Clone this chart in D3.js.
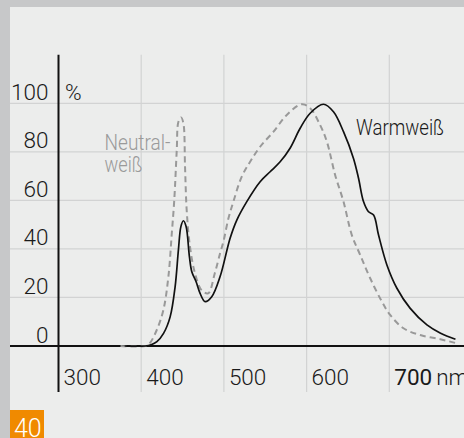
<!DOCTYPE html>
<html>
<head>
<meta charset="utf-8">
<script src="https://cdn.jsdelivr.net/npm/d3@7/dist/d3.min.js"></script>
<style>
  html, body { margin: 0; padding: 0; background: #c7c8c9; }
  svg { display: block; }
  text { font-family: Roboto, "Liberation Sans", Arial, sans-serif; font-weight: 300; }
</style>
</head>
<body>
<svg id="chart" width="464" height="438"></svg>
<script>
// ---- data ----
const xTicks = [300, 400, 500, 600, 700];
const yTicks = [0, 20, 40, 60, 80, 100];
const xTickLabels = ["300", "400", "500", "600", "700"];
const yTickLabels = ["0", "20", "40", "60", "80", "100"];
const xUnit = "nm";
const yUnit = "%";
const seriesNames = ["Warmweiß", "Neutral-weiß"];
const pageNumber = "40";

// Warmweiß (solid black): wavelength (nm) and relative value (%)
const warmNm = [380, 405, 412, 419, 427, 435, 441, 445, 448, 451, 454.3, 458.3, 461.2, 466.4, 471.2, 477.2, 485.3, 495.4, 507.5, 515.6, 527.7, 543.8, 555.9, 568, 580, 592.2, 604.3, 620.4, 632.5, 644.6, 656.7, 662.8, 668.8, 674.9, 681, 687, 697.1, 709.2, 725.3, 745.5, 762, 780];
const warmVal = [0, 0, 0.5, 1.8, 5.2, 12, 24.4, 39.6, 49.2, 51.6, 49.2, 36.8, 30.6, 26.5, 21.7, 18.3, 20.3, 28.6, 44.4, 51.9, 59.5, 67.7, 71.8, 75.9, 81.5, 89.7, 95.9, 99.6, 96.5, 88.3, 77.3, 69.1, 59.5, 55.3, 54, 45.7, 33.4, 23.8, 15.5, 8.7, 5.3, 2.8];

// Neutralweiß (dashed grey)
const neutralNm = [375, 405, 410, 418.8, 426.8, 432.9, 437, 440, 443, 445, 448.2, 451, 453, 455, 459, 465, 473, 481, 489, 495.4, 499.4, 505.5, 511.5, 521.6, 531.7, 543.8, 560, 576, 594, 604.3, 616.4, 624.5, 634.5, 644.6, 654.7, 664.8, 676.9, 691, 701, 717.2, 737.4, 761.6, 781.8];
const neutralVal = [0, 0, 1, 6.6, 14.8, 28.6, 46.4, 60.2, 80.8, 92.4, 94.2, 91.8, 73.9, 56, 40.9, 30, 23, 21.7, 30, 38.2, 43, 52.6, 59.5, 69.8, 75.9, 82.1, 88.3, 95.2, 99.6, 98, 91, 84.2, 70.5, 59.5, 45.7, 37.5, 27.9, 18.3, 12.8, 7.3, 4.5, 2.8, 1.1];

// ---- layout ----
const W = 464, H = 438;
const svg = d3.select("#chart");

const x = d3.scaleLinear().domain([300, 700]).range([58.5, 389.3]);
const y = d3.scaleLinear().domain([0, 100]).range([346, 103.3]);

const panelX = 10, panelY = 7;
const gridTop = y(120), gridBottom = 392;

// panel
svg.append("rect").attr("x", panelX).attr("y", panelY)
  .attr("width", W - panelX).attr("height", H - panelY).attr("fill", "#ecedec");

// horizontal grid lines
svg.append("g").selectAll("line").data(yTicks.filter(d => d > 0)).join("line")
  .attr("x1", panelX).attr("x2", W)
  .attr("y1", d => y(d)).attr("y2", d => y(d))
  .attr("stroke", "#d2d3d3").attr("stroke-width", 1.3);

// vertical grid lines
svg.append("g").selectAll("line").data(xTicks.filter(d => d > 300)).join("line")
  .attr("x1", d => x(d)).attr("x2", d => x(d))
  .attr("y1", gridTop).attr("y2", gridBottom)
  .attr("stroke", "#d2d3d3").attr("stroke-width", 1.2);

// axes lines
svg.append("line").attr("x1", panelX).attr("x2", W).attr("y1", y(0)).attr("y2", y(0))
  .attr("stroke", "#111").attr("stroke-width", 1.8);
svg.append("line").attr("x1", x(300)).attr("x2", x(300)).attr("y1", gridTop).attr("y2", gridBottom)
  .attr("stroke", "#111").attr("stroke-width", 2);

// y tick labels
svg.append("g").selectAll("text").data(yTicks).join("text")
  .attr("x", 48.5).attr("y", d => y(d) - 3.5)
  .attr("text-anchor", "end").attr("font-size", 22.5).attr("fill", "#1a1a1a")
  .text((d, i) => yTickLabels[i]);

// unit %
svg.append("text").attr("x", 65).attr("y", y(100) - 3.5)
  .attr("font-size", 22.5).attr("fill", "#1a1a1a").text(yUnit);

// x tick labels
const xl = svg.append("g").selectAll("text").data(xTicks).join("text")
  .attr("x", d => x(d) + 5).attr("y", 385)
  .attr("font-size", 22.5).attr("fill", "#1a1a1a");
xl.each(function(d, i) {
  const t = d3.select(this);
  if (i === xTicks.length - 1) {
    t.append("tspan").attr("font-weight", 400).text(xTickLabels[i]);
    t.append("tspan").attr("dx", 4).text(xUnit);
  } else {
    t.text(xTickLabels[i]);
  }
});

// curves
const line = d3.line()
  .x(d => x(d[0])).y(d => y(d[1]))
  .curve(d3.curveCatmullRom.alpha(0.5));

const neutralData = neutralNm.map((n, i) => [n, neutralVal[i]]);
const warmData = warmNm.map((n, i) => [n, warmVal[i]]);

svg.append("path").datum(neutralData).attr("d", line)
  .attr("fill", "none").attr("stroke", "#999").attr("stroke-width", 2)
  .attr("stroke-dasharray", "6,4");

svg.append("path").datum(warmData).attr("d", line)
  .attr("fill", "none").attr("stroke", "#111").attr("stroke-width", 1.7);

// series labels
svg.append("text").attr("x", 356).attr("y", 135)
  .attr("font-size", 22.5).attr("fill", "#1a1a1a")
  .attr("textLength", 88).attr("lengthAdjust", "spacingAndGlyphs")
  .text(seriesNames[0]);

const parts = seriesNames[1].split("-");
svg.append("text").attr("x", 104.5).attr("y", 149.5)
  .attr("font-size", 22.5).attr("fill", "#9a9a9a")
  .attr("textLength", 66).attr("lengthAdjust", "spacingAndGlyphs")
  .text(parts[0] + "-");
svg.append("text").attr("x", 104.5).attr("y", 171.5)
  .attr("font-size", 22.5).attr("fill", "#9a9a9a")
  .attr("textLength", 38).attr("lengthAdjust", "spacingAndGlyphs")
  .text(parts[1]);

// page number box
svg.append("rect").attr("x", panelX).attr("y", 410).attr("width", 34).attr("height", 28).attr("fill", "#f08a00");
svg.append("text").attr("x", 14).attr("y", 437).attr("font-size", 25).attr("fill", "#fff").text(pageNumber);
</script>
</body>
</html>
